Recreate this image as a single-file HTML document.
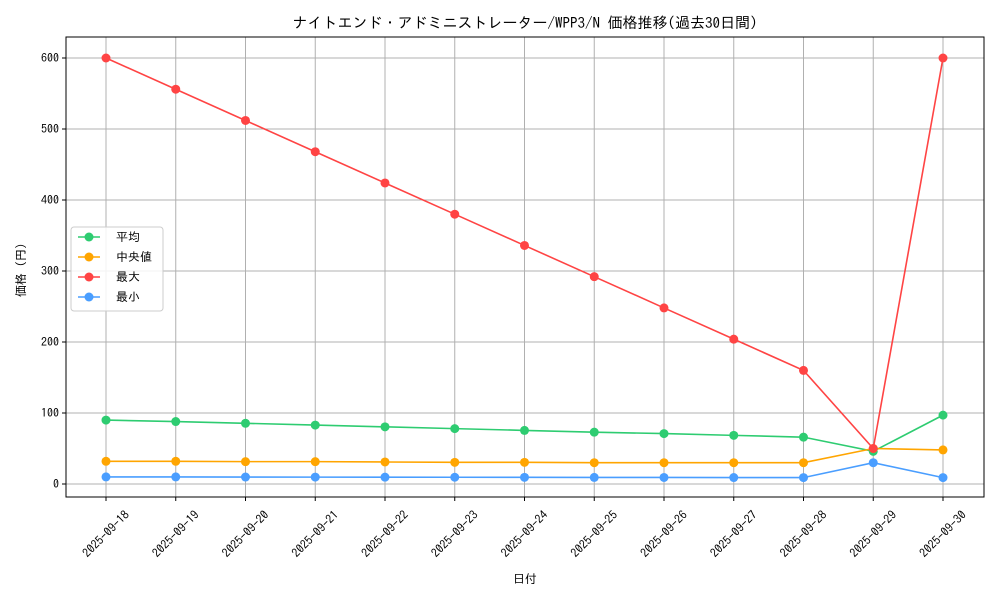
<!DOCTYPE html>
<html><head><meta charset="utf-8"><style>
html,body{margin:0;padding:0;background:#fff;}
svg{display:block;font-family:"IPAGothic","Noto Sans CJK JP","DejaVu Sans",sans-serif;}
</style></head><body>
<svg id="chart" width="1000" height="600">
<rect width="1000" height="600" fill="#fff"/>
<text x="525" y="28" font-size="15" text-anchor="middle">ナイトエンド・アドミニストレーター/WPP3/N 価格推移(過去30日間)</text>
<g id="grid"></g><g id="axes"></g><g id="series"></g>
<text x="525" y="583" font-size="12" text-anchor="middle">日付</text>
<text x="25" y="267" font-size="12" text-anchor="middle" transform="rotate(-90 25 267)">価格（円）</text>
<g id="legend"></g>
</svg>
<script>
const categories=["2025-09-18","2025-09-19","2025-09-20","2025-09-21","2025-09-22","2025-09-23","2025-09-24","2025-09-25","2025-09-26","2025-09-27","2025-09-28","2025-09-29","2025-09-30"];
const avgValues=[90,88,85.5,83,80.5,78,75.5,73,71,68.5,66,46,97];
const medianValues=[32,32,31.5,31.5,31,30.5,30.5,30,30,30,30,50,48];
const maxValues=[600,556,512,468,424,380,336,292,248,204,160,50,600];
const minValues=[10,10,9.8,9.7,9.6,9.5,9.4,9.3,9.2,9.1,9,30,9];
const yTicks=[0,100,200,300,400,500,600];
const seriesNames=["平均","中央値","最大","最小"];
const seriesColors=["#2ecc71","#ffa500","#ff4444","#4a9eff"];
const NS="http://www.w3.org/2000/svg";
const L=66,R=984,T=37,B=497;
const x=i=>106+i*(943-106)/(categories.length-1);
const y=v=>484-v*(484-58)/600;
function mk(tag,attrs,parent){const e=document.createElementNS(NS,tag);for(const k in attrs)e.setAttribute(k,attrs[k]);parent.appendChild(e);return e;}
const grid=document.getElementById('grid'),axes=document.getElementById('axes'),sg=document.getElementById('series'),lg=document.getElementById('legend');
categories.forEach((c,i)=>{
 const g=mk('line',{x1:x(i),x2:x(i),y1:T,y2:B,stroke:'#b0b0b0','stroke-width':1},grid);
 
 
 mk('line',{x1:x(i),x2:x(i),y1:B,y2:B+4,stroke:'#000'},axes);
 const cy=B+37;
 const t=mk('text',{x:x(i),y:cy+4,'font-size':12,'text-anchor':'middle',transform:`rotate(-45 ${x(i)} ${cy})`},axes);
 t.textContent=c;
 
 
});
yTicks.forEach(v=>{
 const g=mk('line',{x1:L,x2:R,y1:y(v),y2:y(v),stroke:'#b0b0b0','stroke-width':1},grid);
 
 
 mk('line',{x1:L-4,x2:L,y1:y(v),y2:y(v),stroke:'#000'},axes);
 const t=mk('text',{x:L-7,y:y(v)+4,'font-size':12,'text-anchor':'end'},axes);
 t.textContent=v;
 
 
});
const frame=mk('rect',{x:L,y:T,width:R-L,height:B-T,fill:'none',stroke:'#000','stroke-width':1},axes);


const allSeries=[avgValues,medianValues,maxValues,minValues];
allSeries.forEach((vals,s)=>{
 const p=mk('polyline',{points:vals.map((v,i)=>x(i)+','+y(v)).join(' '),fill:'none',stroke:seriesColors[s],'stroke-width':1.6},sg);
 
 
 vals.forEach((v,i)=>{
  const c=mk('circle',{cx:x(i),cy:y(v),r:4.5,fill:seriesColors[s]},sg);
  
  
 });
});
const lb=mk('rect',{x:71,y:227,width:92,height:84,fill:'#fff','fill-opacity':0.85,stroke:'#ccc',rx:3},lg);


seriesNames.forEach((n,s)=>{
 const yy=237+s*20;
 mk('line',{x1:78,x2:100,y1:yy,y2:yy,stroke:seriesColors[s],'stroke-width':1.6},lg);
 mk('circle',{cx:89,cy:yy,r:4.5,fill:seriesColors[s]},lg);
 const t=mk('text',{x:116,y:yy+4,'font-size':12},lg);
 t.textContent=n;
 
 
});
</script>
</body></html>
